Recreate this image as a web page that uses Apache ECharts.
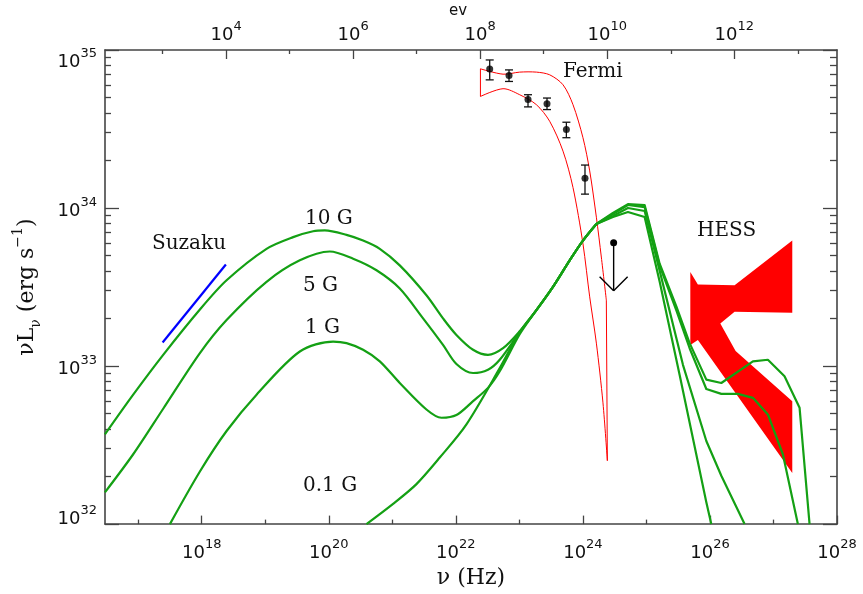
<!DOCTYPE html>
<html>
<head>
<meta charset="utf-8">
<script src="https://cdn.jsdelivr.net/npm/echarts@6/dist/echarts.min.js"></script>
<style>html,body{margin:0;padding:0;background:#fff}#c{width:863px;height:594px}</style>
</head>
<body>
<div id="c"></div>
<script>
// ---------------- axis ranges & ticks ----------------
const HZ_PER_EV = 2.418e14;
const NU_MIN = 3e16, NU_MAX = 1e28;        // Hz
const L_MIN_EXP = 32, L_MAX_EXP = 35;      // log10 erg/s
const nuLabelExps = [18, 20, 22, 24, 26, 28];
const nuMinorExps = [17, 19, 21, 23, 25, 27];
const evLabelExps = [4, 6, 8, 10, 12];
const evMinorExps = [3, 5, 7, 9, 11, 13];
const lumLabelExps = [32, 33, 34, 35];
const minorMantissas = [2, 3, 4, 5, 6, 7, 8, 9];

// ---------------- model curves: log10(nu/Hz), log10(nuLnu / erg s^-1) ----------------
// synchrotron + rising IC part (smooth)
const logNu_10G = [16.476,16.921,17.393,17.971,18.391,19.020,19.439,19.753,19.937,20.279,20.540,20.803,21.117,21.537,21.798,22.009,22.271,22.506,22.743,23.005,23.268,23.529,23.792,24.001,24.212];
const logL_10G  = [32.568,32.819,33.071,33.358,33.543,33.742,33.816,33.853,33.858,33.830,33.794,33.742,33.637,33.448,33.302,33.197,33.103,33.071,33.113,33.220,33.354,33.501,33.669,33.794,33.899];
// IC peak and cut-off part
const logNuHi_10G = [24.212,24.473,24.709,24.972,25.208,25.523,25.943,26.021];
const logLHi_10G  = [33.899,33.943,33.975,33.943,33.535,32.943,32.138,32.000];

const logNu_5G = [16.476,16.921,17.393,17.971,18.391,19.020,19.544,20.016,20.383,20.751,21.117,21.484,21.798,22.009,22.271,22.506,22.691,23.005,23.268,23.529,23.792,24.001,24.212];
const logL_5G  = [32.201,32.442,32.730,33.082,33.291,33.533,33.669,33.725,33.679,33.606,33.491,33.302,33.134,33.013,32.956,32.977,33.040,33.214,33.354,33.501,33.669,33.794,33.899];
const logNuHi_5G = [24.212,24.473,24.709,24.972,25.208,25.575,25.943,26.179,26.545];
const logLHi_5G  = [33.899,33.950,34.000,33.981,33.604,33.008,32.526,32.306,32.000];

const logNu_1G = [17.499,17.971,18.391,18.863,19.544,20.068,20.279,20.540,20.803,21.117,21.537,21.773,22.009,22.271,22.506,22.691,23.005,23.268,23.529,23.792,24.001,24.212];
const logL_1G  = [32.000,32.333,32.589,32.819,33.092,33.155,33.145,33.103,33.030,32.893,32.725,32.673,32.690,32.778,32.862,32.967,33.201,33.354,33.501,33.669,33.794,33.899];
const logNuHi_1G = [24.212,24.473,24.709,24.972,25.208,25.471,25.680,25.943,26.179,26.440,26.676,26.912,27.148,27.384];
const logLHi_1G  = [33.899,33.962,34.019,34.006,33.635,33.352,33.113,32.855,32.824,32.824,32.799,32.694,32.442,32.000];

const logNu_01G = [20.593,21.012,21.380,21.747,22.167,22.691,23.005,23.268,23.529,23.792,24.001,24.212];
const logL_01G  = [32.000,32.128,32.253,32.421,32.631,32.987,33.215,33.354,33.501,33.669,33.794,33.899];
const logNuHi_01G = [24.212,24.473,24.709,24.972,25.208,25.471,25.680,25.943,26.179,26.676,26.912,27.174,27.411,27.568];
const logLHi_01G  = [33.899,33.969,34.025,34.019,33.648,33.377,33.145,32.914,32.893,33.030,33.040,32.935,32.736,32.000];

// ---------------- Suzaku power law ----------------
const suzakuLogNu = [17.384, 18.380];
const suzakuLogL  = [33.149, 33.643];

// ---------------- Fermi data ----------------
const fermiLogNu  = [22.533, 22.837, 23.136, 23.435, 23.740, 24.033];
const fermiLogL   = [34.880, 34.838, 34.686, 34.660, 34.497, 34.189];
const fermiLogLLo = [34.811, 34.801, 34.640, 34.623, 34.445, 34.088];
const fermiLogLHi = [34.937, 34.874, 34.717, 34.696, 34.543, 34.272];
const fermiULLogNu = [24.484];
const fermiULLogL  = [33.780];
// Fermi butterfly outline: upper edge (left -> right) and lower edge (right -> left)
const bowUpperLogNu = [22.387,22.743,23.005,23.268,23.477,23.687,23.844,24.001,24.107,24.212,24.290,24.369];
const bowUpperLogL  = [34.881,34.847,34.860,34.860,34.843,34.780,34.654,34.445,34.235,33.942,33.690,33.417];
const bowLowerLogNu = [24.385,24.316,24.212,24.107,24.001,23.844,23.687,23.477,23.268,23.005,22.743,22.387];
const bowLowerLogL  = [32.401,32.767,33.145,33.438,33.774,34.130,34.360,34.549,34.654,34.717,34.755,34.706];

// ---------------- HESS butterfly (filled) ----------------
const hessLogNu = [25.691,25.810,26.388,27.296,27.296,26.388,26.163,26.404,27.296,27.296,25.810,25.691];
const hessLogL  = [33.596,33.516,33.511,33.794,33.338,33.344,33.270,33.096,32.778,32.323,33.165,33.134];

// ---------------- build ----------------
const zip = (a, b) => a.map((v, i) => [v, b[i]]);
const nuMinExp = Math.log10(NU_MIN), nuMaxExp = Math.log10(NU_MAX);
const evMinExp = nuMinExp - Math.log10(HZ_PER_EV), evMaxExp = nuMaxExp - Math.log10(HZ_PER_EV);
const lumMinor = [];
for (let e = L_MIN_EXP; e < L_MAX_EXP; e++) minorMantissas.forEach(m => lumMinor.push(e + Math.log10(m)));

const FRAME = '#444';
const GREEN = '#14a014';
const labRich = {
  m: {fontFamily: 'DejaVu Sans', fontSize: 18, lineHeight: 24, verticalAlign: 'bottom', color: '#111'},
  s: {fontFamily: 'DejaVu Sans', fontSize: 13, lineHeight: 13, verticalAlign: 'top', color: '#111'}
};
const pow10 = v => '{m|10}{s|' + Math.round(v) + '}';

function axisBase(pos, min, max) {
  return {type: 'value', position: pos, min: min, max: max,
    axisLine: {show: false, onZero: false}, splitLine: {show: false},
    axisTick: {show: false}, axisLabel: {show: false}};
}
function ticks(vals, len) {
  return {show: true, inside: true, length: len, customValues: vals, lineStyle: {color: FRAME, width: 1.3}};
}
const frameLine = {show: true, onZero: false, lineStyle: {color: FRAME, width: 1.6}};

const xBottom = Object.assign(axisBase('bottom', nuMinExp, nuMaxExp), {
  axisLine: frameLine, axisTick: ticks(nuLabelExps, 8.5),
  axisLabel: {show: true, customValues: nuLabelExps, margin: 14, formatter: pow10, rich: labRich},
  name: 'ν (Hz)', nameLocation: 'middle', nameGap: 28,
  nameTextStyle: {fontFamily: 'DejaVu Serif', fontSize: 22, color: '#111'}
});
const xBottomMinor = Object.assign(axisBase('bottom', nuMinExp, nuMaxExp), {axisTick: ticks(nuMinorExps, 4.5)});
const xTop = Object.assign(axisBase('top', evMinExp, evMaxExp), {
  axisLine: frameLine, axisTick: ticks(evLabelExps, 9),
  axisLabel: {show: true, customValues: evLabelExps, margin: 6, formatter: pow10, rich: labRich}
});
const xTopMinor = Object.assign(axisBase('top', evMinExp, evMaxExp), {axisTick: ticks(evMinorExps, 4)});

const yLabelPos = lumLabelExps.map(e => e === L_MAX_EXP ? e - 0.057 : (e === L_MIN_EXP ? e + 0.050 : e));
const yLeft = Object.assign(axisBase('left', L_MIN_EXP, L_MAX_EXP), {
  axisLine: frameLine, axisTick: ticks(lumLabelExps, 14),
  axisLabel: {show: true, customValues: yLabelPos, margin: 8, formatter: pow10, rich: labRich},
  name: '{a|νL}{sub|ν}{a| (erg s}{sup|−1}{a|)}', nameLocation: 'middle', nameGap: 62, nameRotate: 90,
  nameTextStyle: {rich: {
    a: {fontFamily: 'DejaVu Serif', fontSize: 22, lineHeight: 32, verticalAlign: 'middle', color: '#111'},
    sub: {fontFamily: 'DejaVu Serif', fontSize: 14, lineHeight: 14, verticalAlign: 'bottom', color: '#111'},
    sup: {fontFamily: 'DejaVu Serif', fontSize: 14, lineHeight: 14, verticalAlign: 'top', color: '#111'}
  }}
});
const yLeftMinor = Object.assign(axisBase('left', L_MIN_EXP, L_MAX_EXP), {axisTick: ticks(lumMinor, 6)});
const yRight = Object.assign(axisBase('right', L_MIN_EXP, L_MAX_EXP), {axisLine: frameLine, axisTick: ticks(lumLabelExps, 14)});
const yRightMinor = Object.assign(axisBase('right', L_MIN_EXP, L_MAX_EXP), {axisTick: ticks(lumMinor, 7)});

function polygonSeries(xs, ys, style, z) {
  return {type: 'custom', xAxisIndex: 0, yAxisIndex: 0, z: z, silent: true, clip: true,
    data: [[xs[0], ys[0]]],
    renderItem: (params, api) => ({type: 'polygon',
      shape: {points: xs.map((x, i) => api.coord([x, ys[i]]))}, style: style})};
}
function curve(xs, ys, color, z, smooth) {
  return {type: 'line', xAxisIndex: 0, yAxisIndex: 0, data: zip(xs, ys), showSymbol: false,
    symbol: 'none', z: z, silent: true, clip: true, smooth: smooth,
    lineStyle: {color: color, width: 2.2, join: 'round'}};
}
const bowSeries = {type: 'custom', xAxisIndex: 0, yAxisIndex: 0, z: 2, silent: true, clip: true,
  data: [[bowUpperLogNu[0], bowUpperLogL[0]]],
  renderItem: (params, api) => {
    const up = bowUpperLogNu.map((x, i) => api.coord([x, bowUpperLogL[i]]));
    const lo = bowLowerLogNu.map((x, i) => api.coord([x, bowLowerLogL[i]]));
    const st = {stroke: '#ff0000', lineWidth: 1, fill: null};
    return {type: 'group', children: [
      {type: 'polyline', shape: {points: up, smooth: 0.3}, style: st},
      {type: 'polyline', shape: {points: [up[up.length - 1], lo[0]]}, style: st},
      {type: 'polyline', shape: {points: lo, smooth: 0.3}, style: st},
      {type: 'polyline', shape: {points: [lo[lo.length - 1], up[0]]}, style: st}
    ]};
  }};

const option = {
  animation: false,
  backgroundColor: '#fff',
  grid: {left: 105, top: 50, width: 732, height: 477, containLabel: false},
  xAxis: [xBottom, xBottomMinor, xTop, xTopMinor],
  yAxis: [yLeft, yLeftMinor, yRight, yRightMinor],
  series: [
    polygonSeries(hessLogNu, hessLogL, {fill: '#ff0000', stroke: null}, 1),
    bowSeries,
    curve(logNu_10G, logL_10G, GREEN, 3, 0.3),
    curve(logNuHi_10G, logLHi_10G, GREEN, 3, false),
    curve(logNu_5G, logL_5G, GREEN, 3, 0.3),
    curve(logNuHi_5G, logLHi_5G, GREEN, 3, false),
    curve(logNu_1G, logL_1G, GREEN, 3, 0.3),
    curve(logNuHi_1G, logLHi_1G, GREEN, 3, false),
    curve(logNu_01G, logL_01G, GREEN, 3, 0.3),
    curve(logNuHi_01G, logLHi_01G, GREEN, 3, false),
    curve(suzakuLogNu, suzakuLogL, '#0000ff', 4, false),
    {type: 'custom', xAxisIndex: 0, yAxisIndex: 0, z: 5, silent: true,
      data: fermiLogNu.map((x, i) => [x, fermiLogLLo[i], fermiLogLHi[i]]),
      renderItem: (params, api) => {
        const lo = api.coord([api.value(0), api.value(1)]);
        const hi = api.coord([api.value(0), api.value(2)]);
        const w = 4, st = {stroke: '#111', lineWidth: 1.3};
        return {type: 'group', children: [
          {type: 'line', shape: {x1: lo[0], y1: lo[1], x2: hi[0], y2: hi[1]}, style: st},
          {type: 'line', shape: {x1: lo[0] - w, y1: lo[1], x2: lo[0] + w, y2: lo[1]}, style: st},
          {type: 'line', shape: {x1: hi[0] - w, y1: hi[1], x2: hi[0] + w, y2: hi[1]}, style: st}
        ]};
      }},
    {type: 'scatter', xAxisIndex: 0, yAxisIndex: 0, z: 6, silent: true,
      data: zip(fermiLogNu, fermiLogL), symbol: 'circle', symbolSize: 7,
      itemStyle: {color: '#000'}},
    {type: 'custom', xAxisIndex: 0, yAxisIndex: 0, z: 6, silent: true,
      data: zip(fermiULLogNu, fermiULLogL),
      renderItem: (params, api) => {
        const p = api.coord([api.value(0), api.value(1)]);
        const len = 48, wing = 14, st = {stroke: '#000', lineWidth: 1.4};
        const tip = [p[0], p[1] + len];
        return {type: 'group', children: [
          {type: 'line', shape: {x1: p[0], y1: p[1], x2: tip[0], y2: tip[1]}, style: st},
          {type: 'line', shape: {x1: tip[0] - wing, y1: tip[1] - wing, x2: tip[0], y2: tip[1]}, style: st},
          {type: 'line', shape: {x1: tip[0] + wing, y1: tip[1] - wing, x2: tip[0], y2: tip[1]}, style: st},
          {type: 'circle', shape: {cx: p[0], cy: p[1], r: 3.5}, style: {fill: '#000'}}
        ]};
      }}
  ],
  graphic: [
    {type: 'text', x: 152, y: 244, style: {text: 'Suzaku', font: '20px "DejaVu Serif"', fill: '#111', verticalAlign: 'middle', textVerticalAlign: 'middle'}},
    {type: 'text', x: 305, y: 219, style: {text: '10 G', font: '20px "DejaVu Serif"', fill: '#111', verticalAlign: 'middle', textVerticalAlign: 'middle'}},
    {type: 'text', x: 303, y: 286, style: {text: '5 G', font: '20px "DejaVu Serif"', fill: '#111', verticalAlign: 'middle', textVerticalAlign: 'middle'}},
    {type: 'text', x: 305, y: 328, style: {text: '1 G', font: '20px "DejaVu Serif"', fill: '#111', verticalAlign: 'middle', textVerticalAlign: 'middle'}},
    {type: 'text', x: 303, y: 486, style: {text: '0.1 G', font: '20px "DejaVu Serif"', fill: '#111', verticalAlign: 'middle', textVerticalAlign: 'middle'}},
    {type: 'text', x: 563, y: 72, style: {text: 'Fermi', font: '20px "DejaVu Serif"', fill: '#111', verticalAlign: 'middle', textVerticalAlign: 'middle'}},
    {type: 'text', x: 697, y: 231, style: {text: 'HESS', font: '20px "DejaVu Serif"', fill: '#111', verticalAlign: 'middle', textVerticalAlign: 'middle'}},
    {type: 'text', x: 449, y: 11, style: {text: 'ev', font: '15px "DejaVu Sans"', fill: '#111', verticalAlign: 'middle', textVerticalAlign: 'middle'}}
  ]
};
const chart = echarts.init(document.getElementById('c'), null, {renderer: 'canvas'});
chart.setOption(option);
</script>
</body>
</html>
